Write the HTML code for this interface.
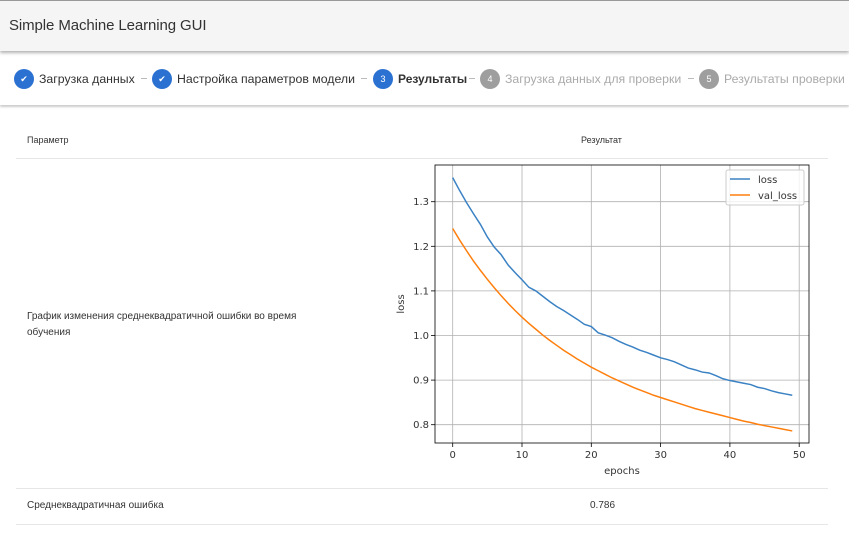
<!DOCTYPE html>
<html><head><meta charset="utf-8"><style>
body{margin:0;width:849px;height:535px;overflow:hidden;background:#fff;font-family:"Liberation Sans",sans-serif;position:relative}
.hdr{position:absolute;left:0;top:0;width:849px;height:50px;background:#f5f5f5;border-top:1px solid #999;box-shadow:0 2px 3px rgba(0,0,0,.3)}
.hdr span{position:absolute;left:9px;top:16px;font-size:15px;color:#333;letter-spacing:-0.1px}
.steps{position:absolute;left:0;top:55px;width:849px;height:50px;box-shadow:0 2px 2px rgba(0,0,0,.2);white-space:nowrap}
.st{position:absolute;top:14px;font-size:12.3px;color:#333;display:flex;align-items:center}
.ic{width:20px;height:20px;border-radius:50%;background:#2b71d1;color:#fff;font-size:9px;display:inline-flex;align-items:center;justify-content:center;margin-right:5px}
.g .ic{background:#9e9e9e}.g{color:#aaa}
.dash{position:absolute;top:23px;width:6px;height:1px;background:#bbb}
.t{position:absolute;font-size:10px;color:#333}
.ln{position:absolute;left:16px;width:812px;height:1px;background:#e6e6e6}
</style></head><body>
<div class="hdr"><span>Simple Machine Learning GUI</span></div>
<div class="steps">
<div class="st" style="left:14px"><span class="ic">✔</span>Загрузка данных</div>
<span class="dash" style="left:141px"></span>
<div class="st" style="left:152px"><span class="ic">✔</span>Настройка параметров модели</div>
<span class="dash" style="left:361px"></span>
<div class="st" style="left:373px;font-weight:bold;font-size:12px"><span class="ic" style="font-weight:normal">3</span>Результаты</div>
<span class="dash" style="left:469px"></span>
<div class="st g" style="left:480px"><span class="ic">4</span>Загрузка данных для проверки</div>
<span class="dash" style="left:688px"></span>
<div class="st g" style="left:699px"><span class="ic">5</span>Результаты проверки</div>
</div>
<div class="t" style="left:27px;top:135px;font-size:9px">Параметр</div>
<div class="t" style="left:581px;top:135px;font-size:9px">Результат</div>
<div class="ln" style="top:158px"></div>
<div class="t" style="left:27px;top:309px;line-height:16px;width:310px">График изменения среднеквадратичной ошибки во время обучения</div>
<div class="ln" style="top:488px"></div>
<div class="t" style="left:27px;top:500px">Среднеквадратичная ошибка</div>
<div class="t" style="left:590px;top:500px">0.786</div>
<div class="ln" style="top:524px"></div>
<svg id="ch" width="849" height="535" style="position:absolute;left:0;top:0"></svg>
<script>
const epochs=[...Array(50).keys()];
const loss=[1.354,1.325,1.298,1.273,1.249,1.221,1.198,1.181,1.158,1.141,1.125,1.108,1.100,1.088,1.076,1.065,1.056,1.046,1.036,1.025,1.020,1.006,1.001,0.995,0.987,0.980,0.974,0.967,0.962,0.956,0.950,0.946,0.941,0.934,0.927,0.923,0.918,0.916,0.910,0.903,0.899,0.896,0.893,0.890,0.884,0.881,0.876,0.872,0.869,0.866];
const valLoss=[1.240,1.214,1.190,1.167,1.146,1.126,1.107,1.089,1.072,1.056,1.041,1.027,1.014,1.001,0.989,0.978,0.967,0.957,0.947,0.938,0.929,0.921,0.913,0.905,0.898,0.891,0.884,0.878,0.872,0.866,0.861,0.856,0.851,0.846,0.841,0.836,0.832,0.828,0.824,0.820,0.816,0.812,0.808,0.805,0.801,0.798,0.795,0.792,0.789,0.786];
const xTicks=[0,10,20,30,40,50];
const yTicks=[0.8,0.9,1.0,1.1,1.2,1.3];
const svg=document.getElementById('ch');const NS='http://www.w3.org/2000/svg';
const X=v=>452.7+v*6.93, Y=v=>201.7-(v-1.3)*446;
function mk(t,a,p){const e=document.createElementNS(NS,t);for(const k in a)e.setAttribute(k,a[k]);(p||svg).appendChild(e);return e;}
const L=435,R=809,T=165,B=443;
xTicks.forEach(v=>{const g=mk('line',{x1:X(v),x2:X(v),y1:T,y2:B,stroke:'#b0b0b0','stroke-width':0.8});

mk('line',{x1:X(v),x2:X(v),y1:B,y2:B+4,stroke:'#000','stroke-width':0.8});
const t=mk('text',{x:X(v),y:B+15,'text-anchor':'middle','font-size':10,fill:'#333','font-family':'DejaVu Sans,sans-serif'});t.textContent=v;
});
yTicks.forEach(v=>{const g=mk('line',{x1:L,x2:R,y1:Y(v),y2:Y(v),stroke:'#b0b0b0','stroke-width':0.8});

mk('line',{x1:L-4,x2:L,y1:Y(v),y2:Y(v),stroke:'#000','stroke-width':0.8});
const t=mk('text',{x:L-6,y:Y(v)+3.5,'text-anchor':'end','font-size':10,fill:'#333','font-family':'DejaVu Sans,sans-serif'});t.textContent=v.toFixed(1);
});
function line(d,c,n){const p=mk('polyline',{points:d.map((v,i)=>X(epochs[i])+','+Y(v)).join(' '),fill:'none',stroke:c,'stroke-width':1.5});
}
line(loss,'#3b82c4','loss-line');line(valLoss,'#ff7f0e','val-loss-line');
const fr=mk('rect',{x:L,y:T,width:R-L,height:B-T,fill:'none',stroke:'#000','stroke-width':0.8});

const lg=mk('g',{});
mk('rect',{x:726,y:170,width:78,height:35,fill:'#fff','fill-opacity':0.8,stroke:'#ccc',rx:2},lg);
mk('line',{x1:730,x2:750,y1:179,y2:179,stroke:'#3b82c4','stroke-width':1.5},lg);
mk('line',{x1:730,x2:750,y1:195,y2:195,stroke:'#ff7f0e','stroke-width':1.5},lg);
let t1=mk('text',{x:758,y:183,'font-size':10,fill:'#333','font-family':'DejaVu Sans,sans-serif'},lg);t1.textContent='loss';
let t2=mk('text',{x:758,y:199,'font-size':10,fill:'#333','font-family':'DejaVu Sans,sans-serif'},lg);t2.textContent='val_loss';
const xl=mk('text',{x:622,y:474,'text-anchor':'middle','font-size':10,fill:'#333','font-family':'DejaVu Sans,sans-serif'});xl.textContent='epochs';

const yl=mk('text',{x:0,y:0,transform:'translate(404,304) rotate(-90)','text-anchor':'middle','font-size':10,fill:'#333','font-family':'DejaVu Sans,sans-serif'});yl.textContent='loss';

</script>
</body></html>
